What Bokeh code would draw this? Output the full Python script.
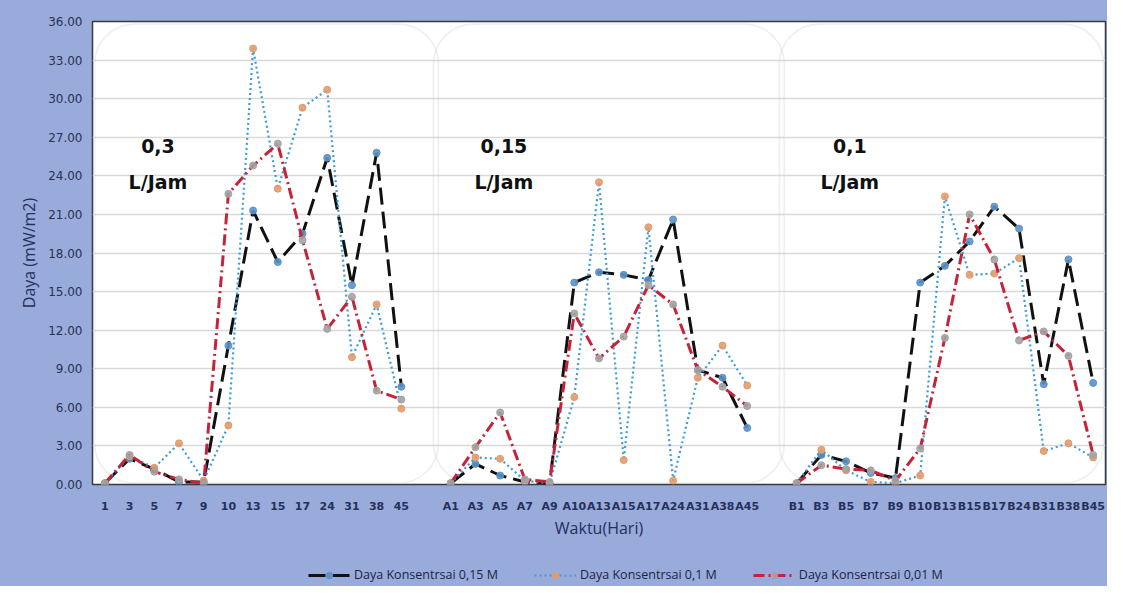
import math
from bokeh.plotting import figure
from bokeh.layouts import column
from bokeh.models import (Range1d, FixedTicker, SingleIntervalTicker, NumeralTickFormatter,
                          BoxAnnotation, Legend, LegendItem, ColumnDataSource)
from bokeh.embed import file_html
from bokeh.resources import INLINE
from bokeh.core.properties import value

# ---------------- data ----------------
cats_03 = ["1", "3", "5", "7", "9", "10", "13", "15", "17", "24", "31", "38", "45"]
cats_015 = ["A1", "A3", "A5", "A7", "A9", "A10", "A13", "A15", "A17", "A24", "A31", "A38", "A45"]
cats_01 = ["B1", "B3", "B5", "B7", "B9", "B10", "B13", "B15", "B17", "B24", "B31", "B38", "B45"]

flow_labels = ["0,3", "0,15", "0,1"]
unit_label = "L/Jam"

series_names = ["Daya Konsentrsai 0,15 M", "Daya Konsentrsai 0,1 M", "Daya Konsentrsai 0,01 M"]

# Daya Konsentrsai 0,15 M
k015_g03 = [0.1, 2.0, 1.2, 0.2, 0.2, 10.8, 21.3, 17.3, 19.5, 25.4, 15.5, 25.8, 7.6]
k015_g015 = [0.1, 1.6, 0.7, 0.2, 0.1, 15.7, 16.5, 16.3, 15.9, 20.6, 8.9, 8.3, 4.4]
k015_g01 = [0.1, 2.3, 1.8, 0.9, 0.5, 15.7, 17.0, 18.9, 21.6, 19.9, 7.8, 17.5, 7.9]

# Daya Konsentrsai 0,1 M
k01_g03 = [0.1, 2.2, 1.3, 3.2, 0.3, 4.6, 33.9, 23.0, 29.3, 30.7, 9.9, 14.0, 5.9]
k01_g015 = [0.1, 2.1, 2.0, 0.3, 0.1, 6.8, 23.5, 1.9, 20.0, 0.3, 8.3, 10.8, 7.7]
k01_g01 = [0.1, 2.7, 1.1, 0.2, 0.1, 0.7, 22.4, 16.3, 16.4, 17.6, 2.6, 3.2, 2.1]

# Daya Konsentrsai 0,01 M
k001_g03 = [0.1, 2.3, 1.0, 0.4, 0.1, 22.6, 24.8, 26.5, 19.0, 12.1, 14.6, 7.3, 6.6]
k001_g015 = [0.1, 2.9, 5.6, 0.4, 0.2, 13.3, 9.8, 11.5, 15.5, 14.0, 8.9, 7.6, 6.1]
k001_g01 = [0.1, 1.5, 1.2, 1.1, 0.3, 2.8, 11.4, 21.0, 17.5, 11.2, 11.9, 10.0, 2.3]

# ---------------- build ----------------
groups = [cats_03, cats_015, cats_01]
step = len(cats_03) + 1  # one blank category between groups

tick_pos, tick_lab = [], []
for gi, g in enumerate(groups):
    for j, c in enumerate(g):
        tick_pos.append(gi * step + j)
        tick_lab.append(c)


def full(arrs):
    xs, ys = [], []
    for gi, a in enumerate(arrs):
        for j, v in enumerate(a):
            xs.append(gi * step + j)
            ys.append(v)
        xs.append(gi * step + len(a))
        ys.append(float("nan"))
    return xs, ys


series = [
    [k015_g03, k015_g015, k015_g01],
    [k01_g03, k01_g015, k01_g01],
    [k001_g03, k001_g015, k001_g01],
]
line_colors = ["#111111", "#3E9CD8", "#C4243A"]
line_dashes = ["17 7", "2 3", "11 4 2 4"]
line_widths = [3, 2.2, 3]
marker_colors = ["#5B92C8", "#E39C6B", "#A3A3A3"]

BG = "#98ABDB"
W = 1107
MBL, MBR = 92, 2

nx = len(tick_pos) + 2
p = figure(width=W, height=560, output_backend="svg", toolbar_location=None,
           x_range=Range1d(-0.5, nx - 0.5), y_range=Range1d(0, 36),
           min_border_left=MBL, min_border_right=MBR, min_border_top=21, min_border_bottom=76)

p.border_fill_color = BG
p.background_fill_color = "#FFFFFF"
p.outline_line_color = "#3A3A3A"
p.outline_line_width = 1.5

# rounded panels
for gi, g in enumerate(groups):
    left = max(gi * step - 0.7, -0.42)
    right = min(gi * step + len(g) + 0.5, nx - 0.58)
    p.add_layout(BoxAnnotation(left=left, right=right, top=35.8, bottom=0.1,
                               border_radius=40, fill_alpha=0,
                               line_color="#C9C9C9", line_width=1.7, level="underlay"))

# grids
p.xgrid.grid_line_color = None
p.ygrid.grid_line_color = "#D9D9D9"
p.ygrid.grid_line_width = 1.4

# y axis
p.yaxis.ticker = SingleIntervalTicker(interval=3)
p.yaxis.formatter = NumeralTickFormatter(format="0.00")
p.yaxis.axis_label = "Daya (mW/m2)"
p.yaxis.axis_label_text_font = "Open Sans"
p.yaxis.axis_label_text_font_style = "normal"
p.yaxis.axis_label_text_font_size = "16px"
p.yaxis.axis_label_text_color = "#23305A"
p.yaxis.axis_label_standoff = 5
p.yaxis.major_label_text_font = "DejaVu Sans"
p.yaxis.major_label_text_font_size = "12px"
p.yaxis.major_label_text_color = "#2A3152"
p.yaxis.major_label_standoff = 4
p.yaxis.major_tick_line_color = None
p.yaxis.minor_tick_line_color = None
p.yaxis.axis_line_color = None

# x axis
p.xaxis.ticker = FixedTicker(ticks=tick_pos)
p.xaxis.major_label_overrides = {pos: lab for pos, lab in zip(tick_pos, tick_lab)}
p.xaxis.axis_label = "Waktu(Hari)"
p.xaxis.axis_label_text_font = "Open Sans"
p.xaxis.axis_label_text_font_style = "normal"
p.xaxis.axis_label_text_font_size = "16px"
p.xaxis.axis_label_text_color = "#23305A"
p.xaxis.axis_label_standoff = 1
p.xaxis.major_label_text_font = "DejaVu Sans"
p.xaxis.major_label_text_font_style = "bold"
p.xaxis.major_label_text_font_size = "11px"
p.xaxis.major_label_text_color = "#27305A"
p.xaxis.major_label_standoff = 9
p.xaxis.major_tick_line_color = None
p.xaxis.minor_tick_line_color = None
p.xaxis.axis_line_color = None

# series
for si, arrs in enumerate(series):
    xs, ys = full(arrs)
    src = ColumnDataSource(dict(x=xs, y=ys))
    p.line("x", "y", source=src, line_color=line_colors[si], line_width=line_widths[si],
           line_dash=line_dashes[si], line_cap="butt")
    p.scatter("x", "y", source=src, size=7, marker="circle",
              fill_color=marker_colors[si], line_color=marker_colors[si], fill_alpha=0.9)

# flow-rate labels
lx = [gi * step + 2.15 for gi in range(len(groups))]
p.text(x=lx, y=[26.3] * len(lx), text=flow_labels, text_font=value("DejaVu Sans"),
       text_font_style="bold", text_font_size="19px", text_align="center",
       text_baseline="middle", text_color="#111111")
p.text(x=lx, y=[23.5] * len(lx), text=[unit_label] * len(lx), text_font=value("DejaVu Sans"),
       text_font_style="bold", text_font_size="19px", text_align="center",
       text_baseline="middle", text_color="#111111")

# ---------------- legend strip ----------------
leg = figure(width=W, height=26, output_backend="svg", toolbar_location=None,
             x_range=Range1d(0, 1), y_range=Range1d(0, 1),
             x_axis_location=None, y_axis_location=None,
             min_border_left=MBL, min_border_right=MBR,
             min_border_top=0, min_border_bottom=0)
leg.grid.visible = False
leg.outline_line_color = None
leg.background_fill_alpha = 0
leg.border_fill_alpha = 0

items = []
for si in range(3):
    esrc = ColumnDataSource(dict(x=[-5, -4], y=[-5, -5]))
    lr = leg.line("x", "y", source=esrc, line_color=line_colors[si], line_width=line_widths[si],
                  line_dash=line_dashes[si], line_cap="butt")
    mr = leg.scatter("x", "y", source=esrc, size=7, marker="circle",
                     fill_color=marker_colors[si], line_color=marker_colors[si], fill_alpha=0.9)
    items.append(LegendItem(label=series_names[si], renderers=[lr, mr]))

legend = Legend(items=items, orientation="horizontal", location=(216, 3),
                background_fill_alpha=0, border_line_alpha=0, padding=0, margin=0,
                glyph_width=42, glyph_height=16, label_standoff=4, spacing=36,
                label_text_font="Open Sans", label_text_font_size="12.5px",
                label_text_color="#1C2445")
leg.add_layout(legend, "center")

layout = column(p, leg, spacing=0, styles={"background-color": BG})
open("out.html", "w").write(file_html(layout, INLINE))
